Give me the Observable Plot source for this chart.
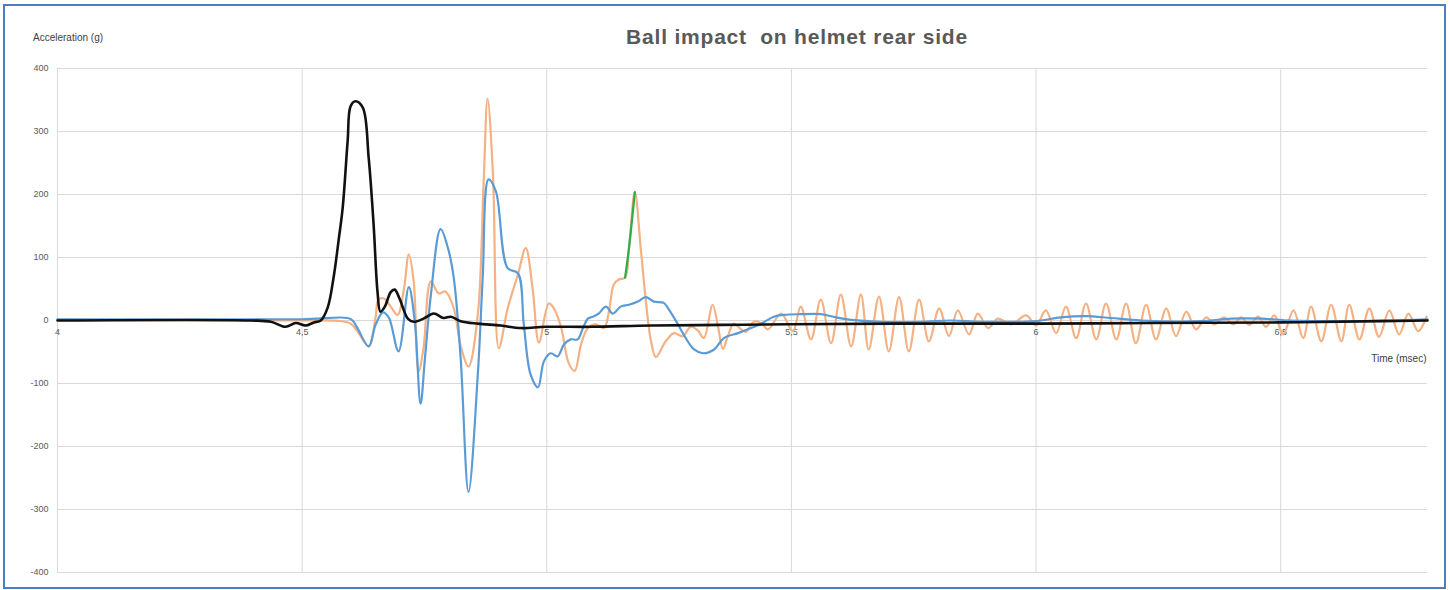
<!DOCTYPE html>
<html>
<head>
<meta charset="utf-8">
<script src="https://cdn.jsdelivr.net/npm/d3@7"></script>
<script src="https://cdn.jsdelivr.net/npm/@observablehq/plot@0.6"></script>
<style>
  html, body { margin: 0; padding: 0; background: #fff; }
  body { width: 1450px; height: 590px; position: relative; overflow: hidden; font-family: "Liberation Sans", Arial, sans-serif; }
  #frame { position: absolute; left: 3px; top: 4px; width: 1443px; height: 585px; box-sizing: border-box; border: 2.5px solid #4A7EC2; }
  #title { position: absolute; left: 0; width: 1594px; top: 25px; text-align: center; font-size: 21px; letter-spacing: 0.8px; font-weight: bold; color: #595959; }
  #ylabel { position: absolute; left: 33px; top: 32px; font-size: 10px; color: #404040; }
  #chart { position: absolute; left: 0; top: 50px; }
</style>
</head>
<body>
<div id="frame"></div>
<div id="title">Ball impact&nbsp; on helmet rear side</div>
<div id="ylabel">Acceleration (g)</div>
<div id="chart"></div>
<script>
// ---- data (time in msec, acceleration in g) ----
const xTicks = [4, 4.5, 5, 5.5, 6, 6.5];
const xTickLabels = ["4", "4,5", "5", "5,5", "6", "6,5"];
const yTicks = [-400, -300, -200, -100, 0, 100, 200, 300, 400];
const xLabel = "Time (msec)";

const blackSeries = [
  [4.000,0],[4.395,0],[4.436,-2],[4.466,-10],[4.487,-4],[4.507,-8],[4.524,-3],[4.538,0],[4.552,20],
  [4.564,67],[4.575,130],[4.583,180],[4.593,285],[4.599,340],[4.609,348],[4.624,338],[4.636,258],
  [4.646,153],[4.654,46],[4.660,14],[4.669,22],[4.681,45],[4.689,49],[4.699,35],[4.716,3],[4.728,-2],
  [4.748,3],[4.769,11],[4.789,4],[4.804,6],[4.824,-1],[4.859,-5],[4.906,-8],[4.947,-12],[4.998,-10],
  [5.090,-10],[5.213,-8],[5.356,-7],[5.499,-6],[5.724,-5],[6.000,-5],[6.235,-4],[6.501,-3],[6.706,-1],[6.800,0]
];

const blueSeries = [
  [4.000,2],[4.497,2],[4.593,4],[4.603,0],[4.613,-12],[4.636,-41],[4.650,-7],[4.665,13],[4.677,5],
  [4.697,-49],[4.718,53],[4.730,0],[4.742,-132],[4.751,-60],[4.763,40],[4.783,145],[4.798,115],
  [4.810,67],[4.824,-60],[4.840,-272],[4.859,-86],[4.869,67],[4.881,224],[4.896,205],[4.920,83],
  [4.941,75],[4.953,-6],[4.967,-86],[4.982,-106],[4.994,-65],[5.008,-52],[5.022,-57],[5.035,-38],
  [5.049,-30],[5.063,-30],[5.074,-12],[5.084,3],[5.094,6],[5.106,11],[5.121,22],[5.135,11],[5.151,22],
  [5.168,25],[5.186,30],[5.202,37],[5.219,30],[5.239,28],[5.249,18],[5.268,-6],[5.284,-28],[5.301,-46],
  [5.319,-52],[5.342,-46],[5.362,-28],[5.391,-20],[5.411,-14],[5.438,-5],[5.464,6],[5.485,9],[5.519,10],
  [5.560,10],[5.591,5],[5.622,1],[5.683,-2],[5.765,-2],[5.826,0],[5.888,-2],[6.000,-1],[6.051,5],
  [6.102,7],[6.153,4],[6.215,0],[6.337,-1],[6.399,3],[6.460,3],[6.521,0],[6.644,-1],[6.800,2]
];

const orangeSeries = [
  [4.000,1],[4.497,0],[4.579,-1],[4.599,-5],[4.613,-17],[4.636,-41],[4.650,5],[4.656,33],[4.667,35],
  [4.681,22],[4.695,9],[4.708,50],[4.718,105],[4.728,62],[4.738,-81],[4.748,-44],[4.763,62],[4.779,43],
  [4.793,46],[4.810,19],[4.824,-40],[4.840,-73],[4.859,9],[4.871,221],[4.879,352],[4.890,232],[4.902,-44],
  [4.920,19],[4.941,73],[4.957,115],[4.971,51],[4.984,-35],[5.004,27],[5.014,20],[5.029,-10],[5.045,-68],
  [5.057,-80],[5.070,-38],[5.084,-12],[5.100,-6],[5.117,-12],[5.127,14],[5.137,57],[5.147,65],[5.160,68],
  [5.168,115],[5.180,204],[5.192,115],[5.202,35],[5.213,-33],[5.223,-58],[5.243,-33],[5.260,-20],
  [5.278,-25],[5.294,-10],[5.309,-16],[5.321,-28],[5.339,25],[5.350,-10],[5.360,-45],[5.370,-25],
  [5.382,-5],[5.397,-14],[5.407,-18],[5.423,-2],[5.438,-4],[5.452,-14],[5.479,11],[5.503,-17],
  [5.519,22],[5.540,-30],[5.560,33],[5.581,-36],[5.601,41],[5.622,-41],[5.642,41],[5.658,-46],
  [5.679,38],[5.699,-49],[5.720,37],[5.740,-49],[5.761,33],[5.781,-33],[5.802,19],[5.822,-25],
  [5.840,16],[5.863,-22],[5.881,11],[5.902,-12],[5.922,3],[5.949,-6],[5.980,8],[6.000,-8],[6.020,16],
  [6.041,-20],[6.061,22],[6.082,-28],[6.102,27],[6.123,-30],[6.143,27],[6.164,-30],[6.184,27],
  [6.204,-36],[6.225,25],[6.245,-30],[6.266,19],[6.286,-25],[6.307,14],[6.327,-14],[6.348,5],
  [6.364,-6],[6.384,5],[6.403,-6],[6.419,5],[6.436,-7],[6.454,6],[6.470,-10],[6.487,8],[6.505,-22],
  [6.526,16],[6.546,-28],[6.562,22],[6.583,-33],[6.603,25],[6.624,-33],[6.640,25],[6.661,-30],
  [6.681,19],[6.701,-26],[6.722,16],[6.742,-22],[6.761,11],[6.781,-17],[6.798,6]
];

const greenSeries = [[5.160,68],[5.168,115],[5.180,204]];

// ---- build ----
const toRows = s => s.map(([t, v]) => ({t, v}));
const xTickData = xTicks.map((t, i) => ({t, label: xTickLabels[i]}));

const lineOpts = {x: "t", y: "v", curve: "catmull-rom", strokeLinejoin: "round", strokeLinecap: "round"};

const chart = Plot.plot({
  width: 1450,
  height: 540,
  marginLeft: 57,
  marginRight: 23,
  marginTop: 18,
  marginBottom: 18,
  style: {background: "transparent", color: "#595959", fontFamily: "'Liberation Sans', Arial, sans-serif"},
  x: {domain: [4, 6.8], axis: null},
  y: {domain: [-400, 400], axis: null},
  marks: [
    Plot.gridY(yTicks, {stroke: "#d9d9d9", strokeOpacity: 1, strokeWidth: 1}),
    Plot.gridX(xTicks, {stroke: "#d9d9d9", strokeOpacity: 1, strokeWidth: 1}),
    Plot.axisY(yTicks, {tickSize: 0, tickPadding: 9, fontSize: 9, tickFormat: d => String(d), label: null}),
    Plot.text(xTickData, {x: "t", y: () => 0, text: "label", dy: 12, fontSize: 9, fill: "#595959"}),
    Plot.text([xLabel], {frameAnchor: "right", textAnchor: "end", dy: 38, dx: -1, fontSize: 10, fill: "#404040"}),
    Plot.line(toRows(orangeSeries), {...lineOpts, stroke: "#F4B183", strokeWidth: 2.2}),
    Plot.line(toRows(blueSeries), {...lineOpts, stroke: "#5B9BD5", strokeWidth: 2.2}),
    Plot.line(toRows(greenSeries), {...lineOpts, stroke: "#2EAD4B", strokeWidth: 2.2}),
    Plot.line(toRows(blackSeries), {...lineOpts, stroke: "#111111", strokeWidth: 2.6})
  ]
});
document.getElementById("chart").appendChild(chart);
</script>
</body>
</html>
